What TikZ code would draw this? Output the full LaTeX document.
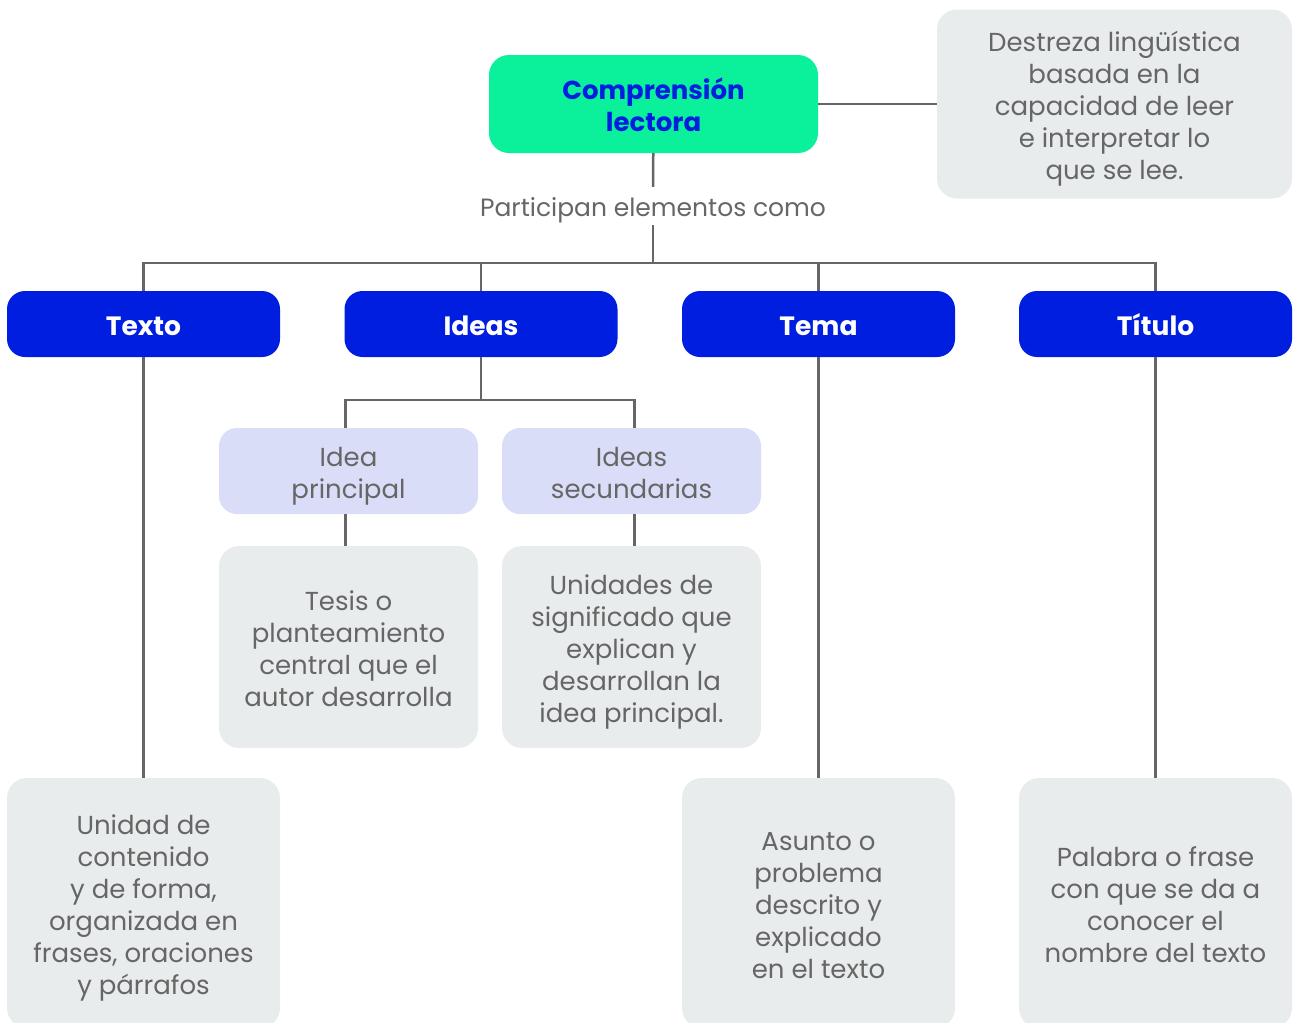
\documentclass[tikz,border=0pt]{standalone}
\usepackage{fontspec}
\setmainfont{Poppins}
\usepackage{tikz}
\usetikzlibrary{positioning, calc}
\definecolor{verdementa}{RGB}{10, 240, 155}
\definecolor{azulfuerte}{RGB}{0, 30, 224}
\definecolor{lavanda}{RGB}{218, 221, 248}
\definecolor{grisclaro}{RGB}{232, 236, 236}
\definecolor{gristexto}{RGB}{102, 102, 102}
\newcommand{\soporte}{\rule[-4.6pt]{0pt}{32pt}}

\begin{document}
\begin{tikzpicture}[x=1pt, y=-1pt,
      every node/.style={font=\fontsize{26}{32}\selectfont, align=center, inner sep=0pt,
                         execute at begin node=\soporte, execute at end node=\soporte},
      lineas/.code={\pgfmathsetmacro\altotexto{32*#1-4.6}%
                    \tikzset{text height=\altotexto pt, text depth=4.6pt}},
      raiz/.style={fill=verdementa, rounded corners=20pt, minimum width=329pt,
                   minimum height=98pt, text=azulfuerte, font=\fontsize{26}{32}\selectfont\bfseries},
      cat/.style={fill=azulfuerte, rounded corners=18pt, minimum width=273pt,
                  minimum height=66pt, text=white, font=\fontsize{26.5}{32}\selectfont\bfseries},
      sub/.style={fill=lavanda, rounded corners=18pt, minimum width=259pt,
                  minimum height=86pt, text=gristexto},
      desc/.style={fill=grisclaro, rounded corners=20pt, text=gristexto},
      conector/.style={draw=gristexto, line width=2.5pt}]
      \useasboundingbox (0,0) rectangle (1294,1023);
      % Raiz y definicion
      \node[raiz, lineas=2] (comp) at (653.5,104) {Comprensión\\lectora};
      \node[desc, lineas=5, minimum width=355pt, minimum height=189pt] (def) at (1114.5,104)
        {Destreza lingüística\\basada en la\\capacidad de leer\\e interpretar lo\\que se lee.};
      \node[text=gristexto, inner ysep=2pt, font=\fontsize{25}{32}\selectfont] (part) at (653,206)
        {Participan elementos como};
      % Categorias
      \node[cat] (texto) at (143.5,324) {Texto};
      \node[cat] (ideas) at (481,324) {Ideas};
      \node[cat] (tema) at (818.5,324) {Tema};
      \node[cat] (titulo) at (1155.5,324) {Título};
      % Ideas
      \node[sub, lineas=2] (ip) at (348.5,471) {Idea\\principal};
      \node[sub, lineas=2] (is) at (631.5,471) {Ideas\\secundarias};
      \node[desc, lineas=4, minimum width=259pt, minimum height=202pt] (ipd) at (348.5,647)
        {Tesis o\\planteamiento\\central que el\\autor desarrolla};
      \node[desc, lineas=5, minimum width=259pt, minimum height=202pt] (isd) at (631.5,647)
        {Unidades de\\significado que\\explican y\\desarrollan la\\idea principal.};
      % Descripciones de abajo
      \node[desc, lineas=6, minimum width=273pt, minimum height=250pt] (textod) at (143.5,903)
        {Unidad de\\contenido\\y de forma,\\organizada en\\frases, oraciones\\y párrafos};
      \node[desc, lineas=5, minimum width=273pt, minimum height=250pt] (temad) at (818.5,903)
        {Asunto o\\problema\\descrito y\\explicado\\en el texto};
      \node[desc, lineas=4, minimum width=273pt, minimum height=250pt] (titulod) at (1155.5,903)
        {Palabra o frase\\con que se da a\\conocer el\\nombre del texto};
      % Conectores
      \coordinate (bus) at (653,263);
      \coordinate (busideas) at (481,400);
      \draw[conector] (comp) -- (def);
      \draw[conector] (comp) -- (part);
      \draw[conector] (part) -- (bus);
      \draw[conector] (texto.north) |- (bus) -| (titulo.north);
      \draw[conector] (ideas.north) -- (ideas.north |- bus);
      \draw[conector] (tema.north) -- (tema.north |- bus);
      \draw[conector] (ideas) -- (busideas);
      \draw[conector] ($(ip.north)+(-3,0)$) |- (busideas) -| ($(is.north)+(3,0)$);
      \draw[conector] ($(ip.south)+(-3,0)$) -- ($(ipd.north)+(-3,0)$);
      \draw[conector] ($(is.south)+(3,0)$) -- ($(isd.north)+(3,0)$);
      \draw[conector] (texto) -- (textod);
      \draw[conector] (tema) -- (temad);
      \draw[conector] (titulo) -- (titulod);
    \end{tikzpicture}
\end{document}
